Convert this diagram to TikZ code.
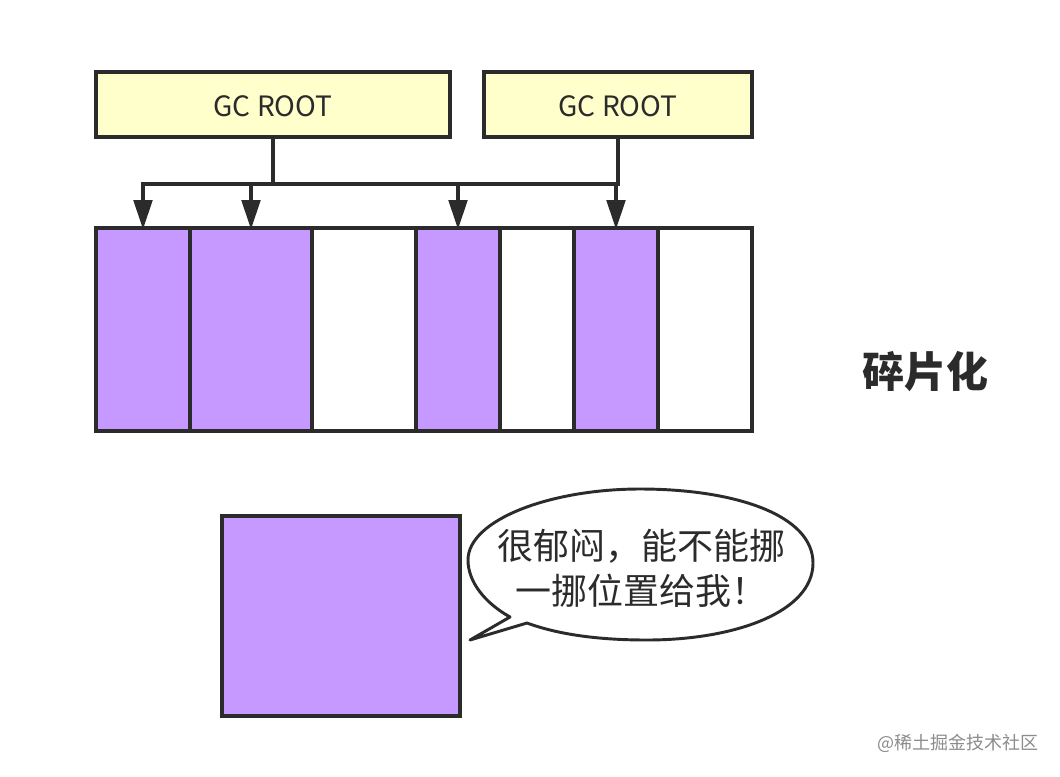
\documentclass[tikz,border=0pt]{standalone}
\usepackage{fontspec}
\setmainfont{Noto Sans CJK SC}
\usepackage{tikz}
\usetikzlibrary{arrows.meta}
\definecolor{rootyellow}{HTML}{FFFFCC}
\definecolor{cellpurple}{HTML}{C599FF}
\definecolor{inkdark}{HTML}{2B2B2B}
\tikzset{
  rootbox/.style={draw=inkdark, line width=2.7pt, fill=rootyellow, inner sep=0pt, outer sep=0pt,
    minimum height=48.75pt, text height=18.5pt, font=\fontsize{21}{24}\selectfont, text=inkdark},
  usedcell/.style={draw=inkdark, line width=2.7pt, fill=cellpurple, inner sep=0pt, outer sep=0pt,
    minimum height=152.25pt},
  freecell/.style={usedcell, fill=white},
  link/.style={draw=inkdark, line width=2.4pt},
  linkarrow/.style={link, -{Triangle[width=14pt,length=22pt]}, shorten >=-1pt}
}
\begin{document}
\begin{tikzpicture}[x=0.75pt, y=-0.75pt]
    \useasboundingbox[fill=white] (0,0) rectangle (1060,776);
    % ROOTS
    \node[rootbox, minimum width=265.5pt] (rootA) at (273,104.5) {GC ROOT};
    \node[rootbox, minimum width=201pt] (rootB) at (618,104.5) {GC ROOT};
    % HEAP
    \node[usedcell, minimum width=70.5pt] (cellA) at (143,329.5) {};
    \node[usedcell, minimum width=91.5pt] (cellB) at (251,329.5) {};
    \node[freecell, minimum width=78pt] (cellC) at (364,329.5) {};
    \node[usedcell, minimum width=63pt] (cellD) at (458,329.5) {};
    \node[freecell, minimum width=55.5pt] (cellE) at (537,329.5) {};
    \node[usedcell, minimum width=63pt] (cellF) at (616,329.5) {};
    \node[freecell, minimum width=70.5pt] (cellG) at (705,329.5) {};
    % links
    \coordinate (bus) at (400,184);
    \draw[link] (rootA.south) -- (rootA.south |- bus);
    \draw[link] (rootB.south) -- (rootB.south |- bus);
    \draw[link, line cap=rect] (cellA.north |- bus) -- (rootB.south |- bus);
    \draw[linkarrow] (cellA.north |- bus) -- (cellA.north);
    \draw[linkarrow] (cellB.north |- bus) -- (cellB.north);
    \draw[linkarrow] (cellD.north |- bus) -- (cellD.north);
    \draw[linkarrow] (cellF.north |- bus) -- (cellF.north);
    % title
    \node[font=\fontsize{31.5}{36}\selectfont\bfseries, text=inkdark] (title) at (925,372) {碎片化};
    % big object
    \node[usedcell, minimum width=178.5pt, minimum height=150pt] (bigobj) at (341,616) {};
    % speech bubble
    \draw[draw=inkdark, line width=2.2pt, fill=white, line join=round]
      (468,560) .. controls (468,520) and (550,489) .. (640,489)
      .. controls (735,489) and (813,515) .. (813,563)
      .. controls (813,612) and (735,640) .. (647,640)
      .. controls (600,640) and (560,635) .. (527,623)
      -- (470,640) -- (510,617)
      .. controls (485,603) and (468,582) .. (468,560) -- cycle;
    \node[align=center, text=inkdark, font=\fontsize{27}{34}\selectfont] (talktext) at (641,568) {很郁闷，能不能挪\\一挪位置给我！};
    % watermark
    \node[font=\fontsize{13.5}{16}\selectfont, text=black!45] (mark) at (958,743) {@稀土掘金技术社区};
\end{tikzpicture}
\end{document}
